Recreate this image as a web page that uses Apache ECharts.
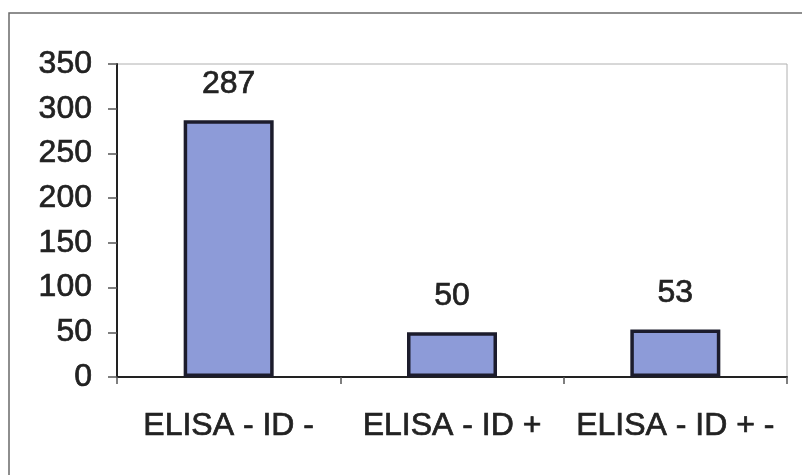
<!DOCTYPE html>
<html>
<head>
<meta charset="utf-8">
<script src="https://cdn.jsdelivr.net/npm/echarts@6/dist/echarts.min.js"></script>
<style>
  html, body { margin: 0; padding: 0; background: #ffffff; }
  #chart { width: 802px; height: 475px; }
</style>
</head>
<body>
<div id="chart"></div>
<script>
// Category names, counts and y-axis scale
const categories = ['ELISA - ID -', 'ELISA - ID +', 'ELISA - ID + -'];
const counts = [287, 50, 53];
const yTicks = { min: 0, max: 350, step: 50 };

const font = '"Liberation Sans", Arial, sans-serif';
const ink = '#222222';

// shared text look: slightly heavy sans
const textStyle = {
  color: ink,
  fontFamily: font,
  fontSize: 32,
  textBorderColor: ink,
  textBorderWidth: 0.7
};

const chart = echarts.init(document.getElementById('chart'), null, { renderer: 'canvas' });

chart.setOption({
  backgroundColor: '#ffffff',
  animation: false,
  graphic: [
    // outer chart frame (top and left edges visible)
    {
      type: 'polyline',
      shape: { points: [[9, 480], [9, 13], [810, 13]] },
      style: { stroke: '#6a6a6a', lineWidth: 1.5, fill: null },
      silent: true
    }
  ],
  grid: {
    left: 117,
    right: 15,
    top: 64,
    bottom: 98,
    show: true,
    borderColor: '#b0b0b0',
    borderWidth: 1,
    backgroundColor: 'transparent'
  },
  xAxis: {
    type: 'category',
    data: categories,
    axisLine: { show: true, lineStyle: { color: ink, width: 2 } },
    axisTick: { show: true, length: 7, alignWithLabel: false, lineStyle: { color: '#555', width: 1.5 } },
    axisLabel: Object.assign({ margin: 33, interval: 0 }, textStyle),
    splitLine: { show: false }
  },
  yAxis: {
    type: 'value',
    min: yTicks.min,
    max: yTicks.max,
    interval: yTicks.step,
    axisLine: { show: true, lineStyle: { color: ink, width: 2 } },
    axisTick: { show: true, inside: false, length: 9, lineStyle: { color: '#555', width: 1.5 } },
    axisLabel: Object.assign({ margin: 25 }, textStyle),
    splitLine: { show: false }
  },
  series: [
    {
      type: 'bar',
      data: counts,
      barWidth: 90,
      itemStyle: {
        color: '#8d9bd8',
        borderColor: '#1c1c2c',
        borderWidth: 3.5
      },
      label: Object.assign({ show: true, position: 'top', distance: 20 }, textStyle)
    }
  ]
});
</script>
</body>
</html>
